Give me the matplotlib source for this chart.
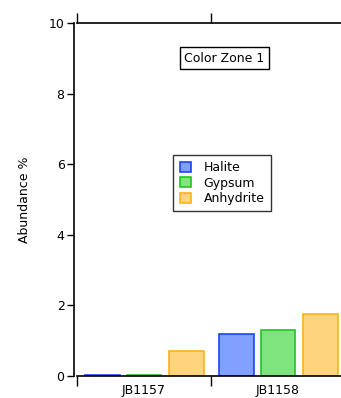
import matplotlib
matplotlib.use("Agg")
import matplotlib.pyplot as plt
import matplotlib.transforms as mtrans
import numpy as np

samples = ["JB1157", "JB1158"]
minerals = ["Halite", "Gypsum", "Anhydrite"]
halite = [0.03, 1.18]
gypsum = [0.03, 1.29]
anhydrite = [0.71, 1.76]

fills = ["#82a0ff", "#80e47e", "#ffd47f"]
edges = ["#1a44ff", "#22c422", "#ffb21a"]

fig = plt.figure(figsize=(3.41, 3.98), dpi=100)
ax = fig.add_axes([77 / 341, 22 / 398, 264 / 341, 353 / 398])

x = np.arange(len(samples))
offsets = [-0.31, 0.0, 0.315]
for vals, off, fc, ec, name in zip([halite, gypsum, anhydrite], offsets, fills, edges, minerals):
    ax.bar(x + off, vals, width=0.26, color=fc, edgecolor=ec, linewidth=1.2, label=name)

ax.set_xlim(-0.5, 1.47)
ax.set_ylim(0, 10)
ax.set_yticks([0, 2, 4, 6, 8, 10])
ax.tick_params(axis="y", direction="out", length=5, width=1, labelsize=9, pad=2)

# group separators as major ticks, sample names as minor labels
ax.set_xticks([-0.5, 0.5])
ax.set_xticklabels([])
ax.set_xticks(x, minor=True)
ax.set_xticklabels(samples, minor=True, fontsize=9)
ax.tick_params(axis="x", which="major", direction="out", length=7, width=1,
               top=True, bottom=True)
ax.tick_params(axis="x", which="minor", length=0, pad=5.5)

ax.spines["right"].set_visible(False)
ax.spines["left"].set_position(("outward", 2))
for s in ["left", "top", "bottom"]:
    ax.spines[s].set_linewidth(1.2)

ax.set_ylabel("Abundance %", fontsize=9, labelpad=13)

# title box, placed in pixel coords from top-left
ax.text(224, 58, "Color Zone 1", fontsize=9, ha="center", va="center",
        transform=mtrans.Affine2D().scale(1, -1).translate(0, 398),
        bbox=dict(boxstyle="square,pad=0.35", fc="white", ec="black", lw=1))

leg = ax.legend(loc="center", bbox_to_anchor=((222 - 77) / 264, (398 - 183 - 22) / 353),
                fontsize=9, frameon=True, fancybox=False, edgecolor="black",
                handlelength=0.9, handleheight=0.9, handletextpad=1.0,
                labelspacing=0.2, borderpad=0.5, borderaxespad=0)
leg.get_frame().set_linewidth(1)

fig.savefig("out.png", dpi=100)
